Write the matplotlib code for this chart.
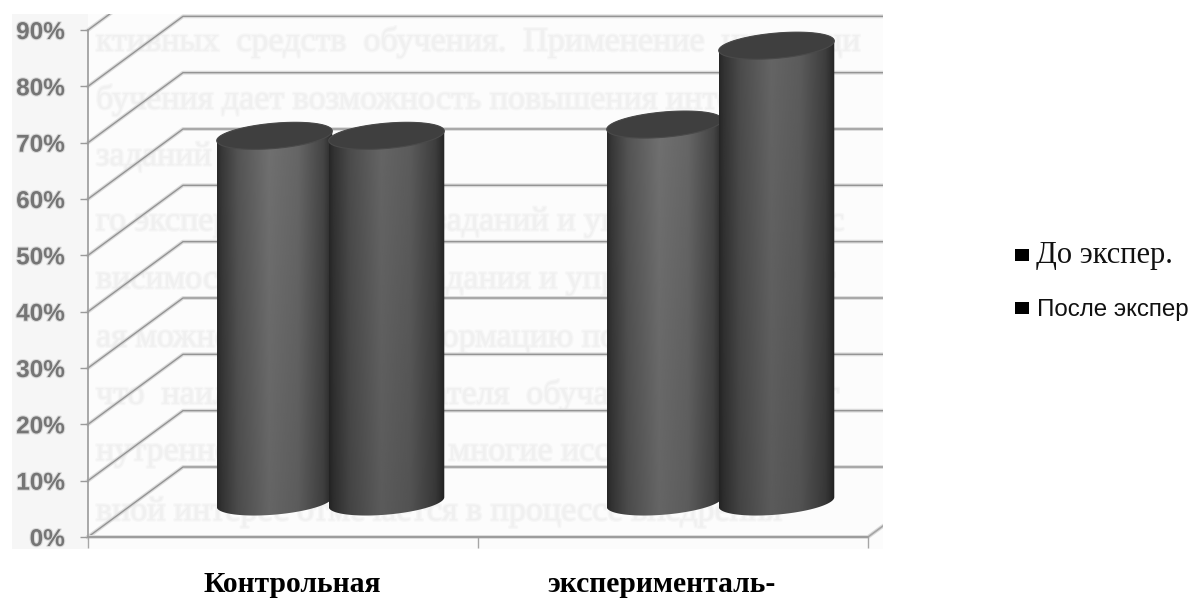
#!/usr/bin/env python
# Oblique 3D-style cylinder chart: share of students before and after the experiment
import numpy as np
import matplotlib
matplotlib.use('Agg')
import matplotlib.pyplot as plt
from matplotlib.patches import Rectangle, Polygon
from matplotlib.path import Path
import matplotlib.patheffects as pe

W, H = 1192, 598

categories = ['Контрольная', 'эксперименталь-']
series_names = ['До экспер.', 'После экспер']
before = [65, 67]
after = [65, 81]
y_ticks = [0, 10, 20, 30, 40, 50, 60, 70, 80, 90]

faint_lines = [
    'ктивных  средств  обучения.  Применение  инноваци',
    'бучения дает возможность повышения интереса',
    'заданий',
    'го экспериментальных заданий и упражнений в сис',
    'висимости от уровня, задания и упражнения могут',
    'ая можно получить информацию по данной теме,',
    'что  наилучшего  показателя  обучающихся  достиг',
    'нутреннего содержания многие исследователи счи',
    'вной интерес отмечается в процессе внедрения',
]
faint_y = [42, 100, 157, 222, 280, 338, 395, 452, 512]

fig = plt.figure(figsize=(W / 100, H / 100), dpi=100, facecolor='white')


def fx(px):
    return px / W


def fy(px):
    return 1 - px / H


ax = fig.add_axes([fx(88), fy(537), fx(868 - 88), fy(30) - fy(537)])
ax.patch.set_alpha(0)
ax.set_xlim(0, 2)
ax.set_ylim(0, 90)
ax.set_zorder(2)

# scanned area behind the plot
scan = Rectangle((fx(12), fy(549)), fx(883 - 12), fy(14) - fy(549), transform=fig.transFigure,
                 facecolor='#fcfcfc', edgecolor='none', zorder=0)
fig.add_artist(scan)
fig.add_artist(Rectangle((fx(12), fy(549)), fx(76), fy(14) - fy(549), transform=fig.transFigure,
                         facecolor='#f6f6f6', edgecolor='none', zorder=0))
for line, y in zip(faint_lines, faint_y):
    t = fig.text(fx(96), fy(y), line, family='Liberation Serif', fontsize=24.5, color='#f0f0f0',
                 va='center', zorder=0.5)
    t.set_path_effects([pe.withStroke(linewidth=2, foreground='#f6f6f6')])
    t.set_clip_path(scan)

# depth of the floor and walls, in data units
px_x = 2 / 780
px_y = 90 / 507
depth_x = 95 * px_x
depth_y = 70 * px_y

soft = [pe.Stroke(linewidth=2.8, foreground='#dcdcdc'), pe.Normal()]
for v in y_ticks:
    ln, = ax.plot([0, depth_x, 2.3], [v, v + depth_y, v + depth_y], color='#949494', lw=1.0, zorder=1,
                  path_effects=soft)
    ln.set_clip_path(scan)
ln, = ax.plot([0, 2, 2 + depth_x], [0, 0, depth_y], color='#a6a6a6', lw=1.2, zorder=1, path_effects=soft)
ln.set_clip_path(scan)

for s in ['top', 'right']:
    ax.spines[s].set_visible(False)
for s in ['left', 'bottom']:
    ax.spines[s].set_color('#9a9a9a')
    ax.spines[s].set_linewidth(1.2)

ax.set_yticks(y_ticks)
ax.set_yticklabels([f'{v}%' for v in y_ticks], family='Liberation Sans', weight='bold',
                   fontsize=17.5, color='#757575')
ax.tick_params(axis='y', length=5.8, width=1.0, color='#9a9a9a', pad=11)
for lab in ax.get_yticklabels():
    lab.set_path_effects([pe.withStroke(linewidth=1.6, foreground='#dadada')])
ax.set_xticks([0, 1, 2])
ax.set_xticklabels(['', '', ''])
ax.tick_params(axis='x', length=8, width=1.0, color='#a6a6a6')

# cylinder shading
radius = 58
half = 12.6
tilt = np.radians(5)
stops = [0, 0.04, 0.18, 0.45, 0.7, 0.92, 1]
shade = [0.17, 0.22, 0.33, 0.44, 0.4, 0.27, 0.16]


def ellipse(cx, cy, t):
    dx = radius * np.cos(t) * np.cos(tilt) - half * np.sin(t) * np.sin(tilt)
    dy = radius * np.cos(t) * np.sin(tilt) + half * np.sin(t) * np.cos(tilt)
    return cx + dx * px_x, cy + dy * px_y


def cylinder(x, value, dark, z):
    cx = x + depth_x / 2
    base = depth_y / 2
    top = value + base
    low_x, low_y = ellipse(cx, base, np.linspace(np.pi, 2 * np.pi, 60))
    up_x, up_y = ellipse(cx, top, np.linspace(0, np.pi, 60))
    pts = np.column_stack([np.r_[low_x, up_x], np.r_[low_y, up_y]])
    body = Path(np.vstack([pts, pts[0]]), closed=True)
    ramp = np.interp(np.linspace(0, 1, 200), stops, shade) * dark
    rows = np.linspace(0.9, 1.0, 40)[:, None] * ramp[None, :]
    im = ax.imshow(rows, extent=[low_x.min(), low_x.max(), low_y.min(), up_y.max()], origin='lower',
                   aspect='auto', cmap='gray', vmin=0, vmax=1, zorder=z, interpolation='bilinear')
    im.set_clip_path(body, transform=ax.transData)
    cap_x, cap_y = ellipse(cx, top, np.linspace(0, 2 * np.pi, 120))
    ax.add_patch(Polygon(np.column_stack([cap_x, cap_y]), closed=True, facecolor='#3f3f3f',
                         edgecolor='#4a4a4a', lw=0.8, zorder=z + 0.1))


bar_off = 56 * px_x
z = 3
for i in range(len(categories)):
    cylinder(i + 0.5 - bar_off, before[i], 1.0, z)
    cylinder(i + 0.5 + bar_off, after[i], 0.9, z + 1)
    z += 2
ax.set_xlim(0, 2)
ax.set_ylim(0, 90)

# category captions
fig.text(fx(292), fy(592), categories[0], family='Liberation Serif', weight='bold', fontsize=21.3,
         color='black', ha='center', va='baseline')
fig.text(fx(662), fy(592), categories[1], family='Liberation Serif', weight='bold', fontsize=21.3,
         color='black', ha='center', va='baseline')

# legend
for y0 in [248.5, 302]:
    fig.add_artist(Rectangle((fx(1015), fy(y0 + 12)), 14 / W, 12 / H, transform=fig.transFigure,
                             facecolor='black', edgecolor='none'))
fig.text(fx(1036), fy(263), series_names[0], family='Liberation Serif', fontsize=22, color='#111111',
         va='baseline')
fig.text(fx(1037), fy(316), series_names[1], family='Liberation Sans', fontsize=17.4, color='#111111',
         va='baseline')

fig.savefig('out.png', dpi=100, facecolor='white')
